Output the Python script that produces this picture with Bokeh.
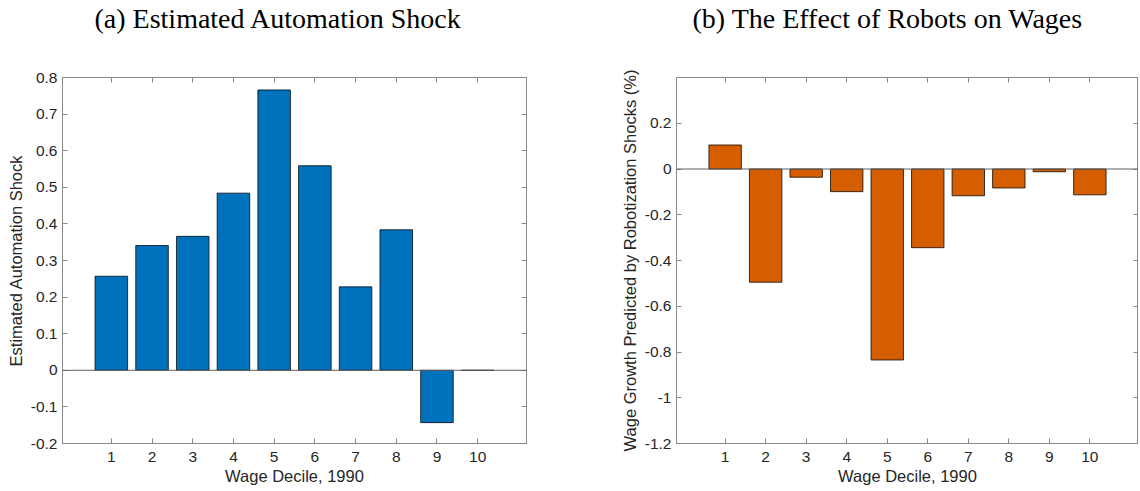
from bokeh.plotting import figure
from bokeh.layouts import row, column
from bokeh.models import Range1d, FixedTicker, LinearAxis, Span
from bokeh.embed import file_html
from bokeh.resources import INLINE

# Wage deciles (1990)
deciles = [1, 2, 3, 4, 5, 6, 7, 8, 9, 10]

# (a) estimated automation shock by decile
automation_shock = [0.257, 0.341, 0.366, 0.484, 0.766, 0.559, 0.228, 0.384, -0.143, 0.0]

# (b) wage growth predicted by robotization shocks (%)
wage_effect = [0.105, -0.495, -0.036, -0.099, -0.835, -0.344, -0.117, -0.083, -0.012, -0.113]

# Tick values and labels
x_ticks = deciles
x_labels = ["1", "2", "3", "4", "5", "6", "7", "8", "9", "10"]
a_ticks = [-0.2, -0.1, 0.0, 0.1, 0.2, 0.3, 0.4, 0.5, 0.6, 0.7, 0.8]
a_labels = ["-0.2", "-0.1", "0", "0.1", "0.2", "0.3", "0.4", "0.5", "0.6", "0.7", "0.8"]
b_ticks = [-1.2, -1.0, -0.8, -0.6, -0.4, -0.2, 0.0, 0.2]
b_labels = ["-1.2", "-1", "-0.8", "-0.6", "-0.4", "-0.2", "0", "0.2"]

AXIS_GREY = "#8a8a8a"
LABEL_COL = "#262626"
SANS = "Liberation Sans"
SERIF = "Liberation Serif"
CAPTION_H = 42


def style_axis(ax, ticks, labels, show_labels=True):
    ax.ticker = FixedTicker(ticks=ticks)
    ax.major_label_overrides = {t: l for t, l in zip(ticks, labels)}
    ax.axis_line_color = AXIS_GREY
    ax.major_tick_line_color = AXIS_GREY
    ax.major_tick_in = 5
    ax.major_tick_out = 0
    ax.minor_tick_line_color = None
    if show_labels:
        ax.major_label_text_font = SANS
        ax.major_label_text_font_size = "15.5px"
        ax.major_label_text_color = LABEL_COL
        ax.axis_label_text_font = SANS
        ax.axis_label_text_font_size = "16.5px"
        ax.axis_label_text_font_style = "normal"
        ax.axis_label_text_color = LABEL_COL
    else:
        # mirrored tick marks only
        ax.major_label_text_font_size = "0px"
        ax.major_label_standoff = 0


def caption(text, border_left, frame_w, border_right, offset):
    # narrow strip holding only the panel caption
    c = figure(
        output_backend="svg", toolbar_location=None, title=text,
        width=border_left + frame_w + border_right, height=CAPTION_H,
        min_border_left=border_left, min_border_right=border_right,
        min_border_top=0, min_border_bottom=0,
        x_axis_location=None, y_axis_location=None,
    )
    c.grid.visible = False
    c.outline_line_color = None
    c.title.text_font = SERIF
    c.title.text_font_size = "28px"
    c.title.text_font_style = "normal"
    c.title.text_color = "black"
    c.title.align = "left"
    c.title.offset = offset
    c.title.standoff = 0
    return c


def panel(values, color, yrange, yticks, ylabels, ylabel,
          border_left, frame_w, border_right):
    p = figure(
        output_backend="svg", toolbar_location=None,
        frame_width=frame_w, frame_height=366,
        min_border_left=border_left, min_border_right=border_right,
        min_border_top=77 - CAPTION_H, min_border_bottom=48,
        x_range=Range1d(-0.2, 11.2), y_range=Range1d(*yrange),
    )
    p.grid.visible = False
    p.outline_line_color = AXIS_GREY
    p.background_fill_color = "white"
    p.border_fill_color = "white"

    style_axis(p.xaxis[0], x_ticks, x_labels)
    p.xaxis[0].axis_label = "Wage Decile, 1990"
    p.xaxis[0].major_label_standoff = 8
    p.xaxis[0].axis_label_standoff = 2
    style_axis(p.yaxis[0], yticks, ylabels)
    p.yaxis[0].axis_label = ylabel
    p.yaxis[0].major_label_standoff = 5
    p.yaxis[0].axis_label_standoff = 3

    top_ax = LinearAxis()
    style_axis(top_ax, x_ticks, x_labels, show_labels=False)
    p.add_layout(top_ax, "above")
    right_ax = LinearAxis()
    style_axis(right_ax, yticks, ylabels, show_labels=False)
    p.add_layout(right_ax, "right")

    p.vbar(x=deciles, top=values, bottom=0, width=0.8,
           fill_color=color, line_color="black", line_alpha=0.75, line_width=1)
    p.add_layout(Span(location=0, dimension="width",
                      line_color="#606060", line_width=1))
    return p


cap_a = caption("(a) Estimated Automation Shock", 62, 464, 44, 32)
pa = panel(automation_shock, "#0072BD", (-0.2, 0.8), a_ticks, a_labels,
           "Estimated Automation Shock", 62, 464, 44)
cap_b = caption("(b) The Effect of Robots on Wages", 106, 462, 0, 16)
pb = panel(wage_effect, "#D55E00", (-1.2, 0.4), b_ticks, b_labels,
           "Wage Growth Predicted by Robotization Shocks (%)", 106, 462, 0)

layout = row(column(cap_a, pa), column(cap_b, pb))
open("out.html", "w").write(file_html(layout, INLINE))
